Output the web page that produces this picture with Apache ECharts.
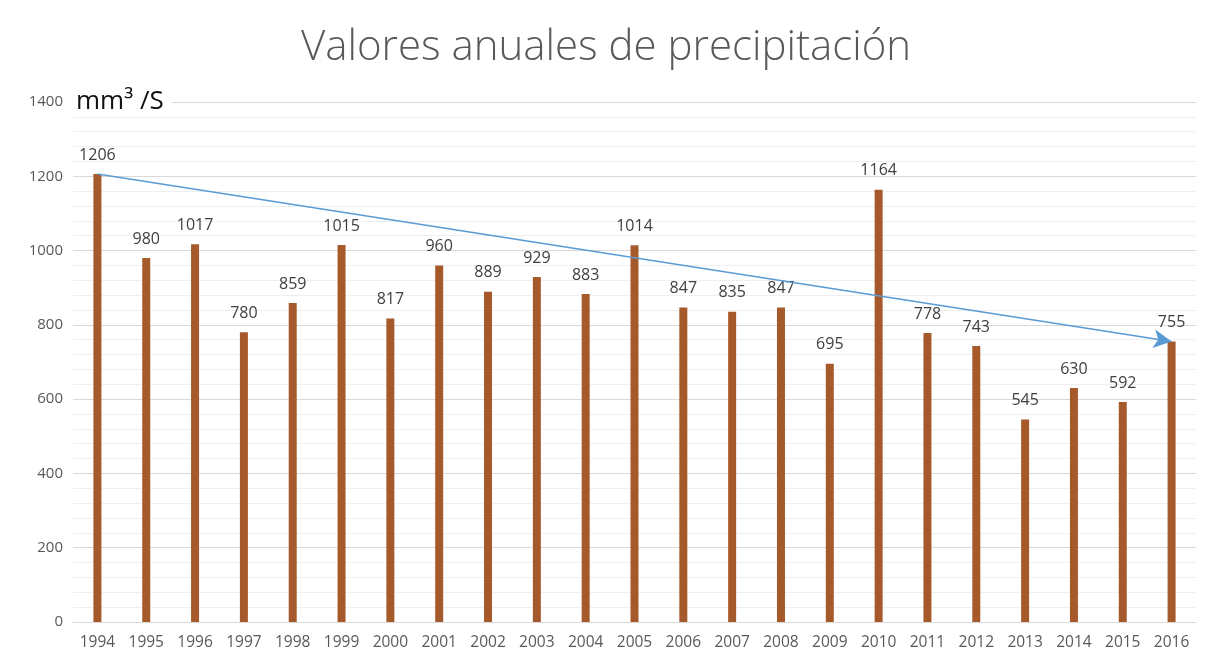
<!DOCTYPE html>
<html>
<head>
<meta charset="utf-8">
<script src="https://cdn.jsdelivr.net/npm/echarts@6/dist/echarts.min.js"></script>
<style>
  html, body { margin: 0; padding: 0; background: #fff; }
  #chart { width: 1212px; height: 663px; }
</style>
</head>
<body>
<div id="chart"></div>
<script>
// --- datos ---
const years = ['1994', '1995', '1996', '1997', '1998', '1999', '2000', '2001', '2002', '2003', '2004', '2005',
  '2006', '2007', '2008', '2009', '2010', '2011', '2012', '2013', '2014', '2015', '2016'];
const precipitation = [1206, 980, 1017, 780, 859, 1015, 817, 960, 889, 929, 883, 1014,
  847, 835, 847, 695, 1164, 778, 743, 545, 630, 592, 755];
const yTicks = [0, 200, 400, 600, 800, 1000, 1200, 1400];

const chart = echarts.init(document.getElementById('chart'));

const option = {
  animation: false,
  title: {
    text: 'Valores anuales de precipitación',
    left: 'center',
    top: 22,
    textStyle: { fontFamily: 'Open Sans', fontWeight: 300, fontSize: 42, color: '#595959' }
  },
  grid: { left: 73, right: 16, top: 102, bottom: 41 },
  xAxis: {
    type: 'category',
    data: years,
    axisTick: { show: false },
    axisLine: { lineStyle: { color: '#d9d9d9' } },
    axisLabel: { color: '#595959', fontSize: 15.5, fontFamily: 'Open Sans', margin: 13, interval: 0 }
  },
  yAxis: {
    type: 'value',
    min: yTicks[0],
    max: yTicks[yTicks.length - 1],
    interval: 200,
    name: 'mm³ /S',
    nameLocation: 'end',
    nameGap: 0,
    nameTextStyle: {
      align: 'left', verticalAlign: 'middle', color: '#111', fontSize: 26,
      fontFamily: 'Open Sans', backgroundColor: '#fff', padding: [2, 8, 2, 3]
    },
    axisLabel: {
      color: '#595959', fontSize: 15, fontFamily: 'Open Sans', margin: 10,
      formatter: v => String(v)
    },
    splitLine: { lineStyle: { color: '#d9d9d9' } },
    minorTick: { show: false, splitNumber: 5 },
    minorSplitLine: { show: true, lineStyle: { color: '#efefef' } }
  },
  series: [
    {
      name: 'Precipitación',
      type: 'bar',
      data: precipitation,
      barWidth: 8,
      itemStyle: { color: '#a65a2b' },
      label: {
        show: true, position: 'top', distance: 11,
        color: '#404040', fontSize: 16, fontFamily: 'Open Sans'
      },
      markLine: {
        silent: true,
        label: { show: false },
        lineStyle: { color: '#5b9bd5', width: 1.5, type: 'solid' },
        data: [[
          { coord: [years[0], precipitation[0]], symbol: 'none' },
          { coord: [years[years.length - 1], precipitation[precipitation.length - 1]], symbol: 'arrow', symbolSize: [14, 18] }
        ]]
      }
    }
  ]
};

chart.setOption(option);
</script>
</body>
</html>
